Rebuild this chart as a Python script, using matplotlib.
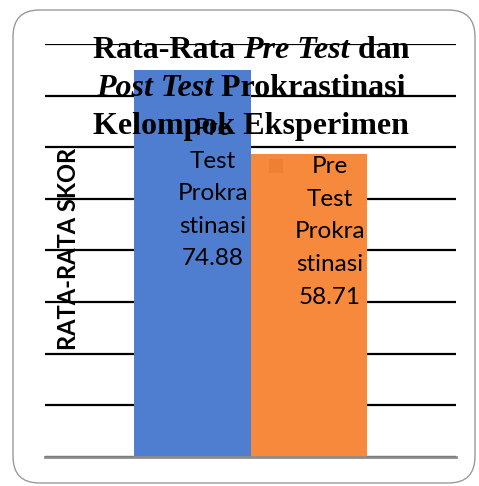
import matplotlib
matplotlib.use("Agg")
import matplotlib.pyplot as plt
from matplotlib.patches import FancyBboxPatch, Rectangle
from matplotlib.transforms import IdentityTransform

# ---- data ----
series_names = ["Pre Test Prokrastinasi", "Post Test Prokrastinasi"]
values = [74.88, 58.71]
bar_colors = ["#4F7ED0", "#F6893B"]
label_texts = ["Pre\nTest\nProkra\nstinasi\n74.88", "Pre\nTest\nProkra\nstinasi\n58.71"]
y_ticks = [0, 10, 20, 30, 40, 50, 60, 70, 80]
y_label = "RATA-RATA SKOR"
title_lines = [
    [("Rata-Rata ", "normal"), ("Pre Test", "italic"), (" dan", "normal")],
    [("Post Test", "italic"), (" Prokrastinasi", "normal")],
    [("Kelompok Eksperimen", "normal")],
]

W, H = 479, 486
fig = plt.figure(figsize=(W / 100, H / 100), dpi=100)

# rounded outer frame
frame = FancyBboxPatch((13 / W, 3 / H), (475 - 13) / W, (476 - 3) / H,
                       boxstyle="round,pad=0,rounding_size=0.055",
                       transform=fig.transFigure, fill=False,
                       edgecolor="#9a9a9a", linewidth=1.0)
fig.patches.append(frame)

ax_l, ax_r, ax_t, ax_b = 45, 456, 44, 457
ax = fig.add_axes([ax_l / W, (H - ax_b) / H, (ax_r - ax_l) / W, (ax_b - ax_t) / H])
ax.set_xlim(-0.5, 0.5)
ax.set_ylim(0, 80)
ax.set_yticks(y_ticks)
ax.yaxis.grid(True, color="black", linewidth=1.6, zorder=0)
ax.set_axisbelow(True)
ax.tick_params(left=False, bottom=False, labelleft=False, labelbottom=False)
for s in ["left", "right", "top"]:
    ax.spines[s].set_visible(False)
ax.spines["bottom"].set_color("#8c8c8c")
ax.spines["bottom"].set_linewidth(2.0)
ax.spines["bottom"].set_zorder(3)

bw = 0.284
xs = [-bw / 2, bw / 2]
ax.bar(xs, values, width=bw, color=bar_colors, zorder=2, linewidth=0)

# y label
fig.text(68 / W, (H - 249) / H, y_label, rotation=90, ha="center", va="center",
         fontsize=17, fontweight="bold", family="Lato", color="black")

# title (mixed bold / bold italic, serif)
fig.canvas.draw()
renderer = fig.canvas.get_renderer()

def piece_width(txt, style):
    t = fig.text(0, 0, txt.replace(" ", "\u00a0"), family="Liberation Serif", fontweight="bold",
                 style=style, fontsize=23, transform=IdentityTransform())
    w = t.get_window_extent(renderer).width
    t.remove()
    return w

cx = 251
baselines = [58, 96, 134]
for line, base in zip(title_lines, baselines):
    widths = [piece_width(t, s) for t, s in line]
    x = cx - sum(widths) / 2
    for (t, s), w in zip(line, widths):
        fig.text(x, H - base, t.replace(" ", "\u00a0"), family="Liberation Serif", fontweight="bold",
                 style=s, fontsize=23, ha="left", va="baseline",
                 transform=IdentityTransform(), zorder=5)
        x += w

# data labels
label_y = [51.0, 43.6]
for xi, txt, ly in zip(xs, label_texts, label_y):
    ax.annotate(txt, xy=(xi, ly), xytext=(21, 0), textcoords="offset pixels",
                ha="center", va="center", fontsize=17.5, family="Lato",
                linespacing=1.68, color="black", zorder=6, annotation_clip=False)

# legend key square on the orange label
key = Rectangle((269, H - 173), 14, 14, transform=IdentityTransform(),
                facecolor="#EE8033", edgecolor="none", zorder=4)
fig.patches.append(key)

fig.savefig("out.png", dpi=100)
